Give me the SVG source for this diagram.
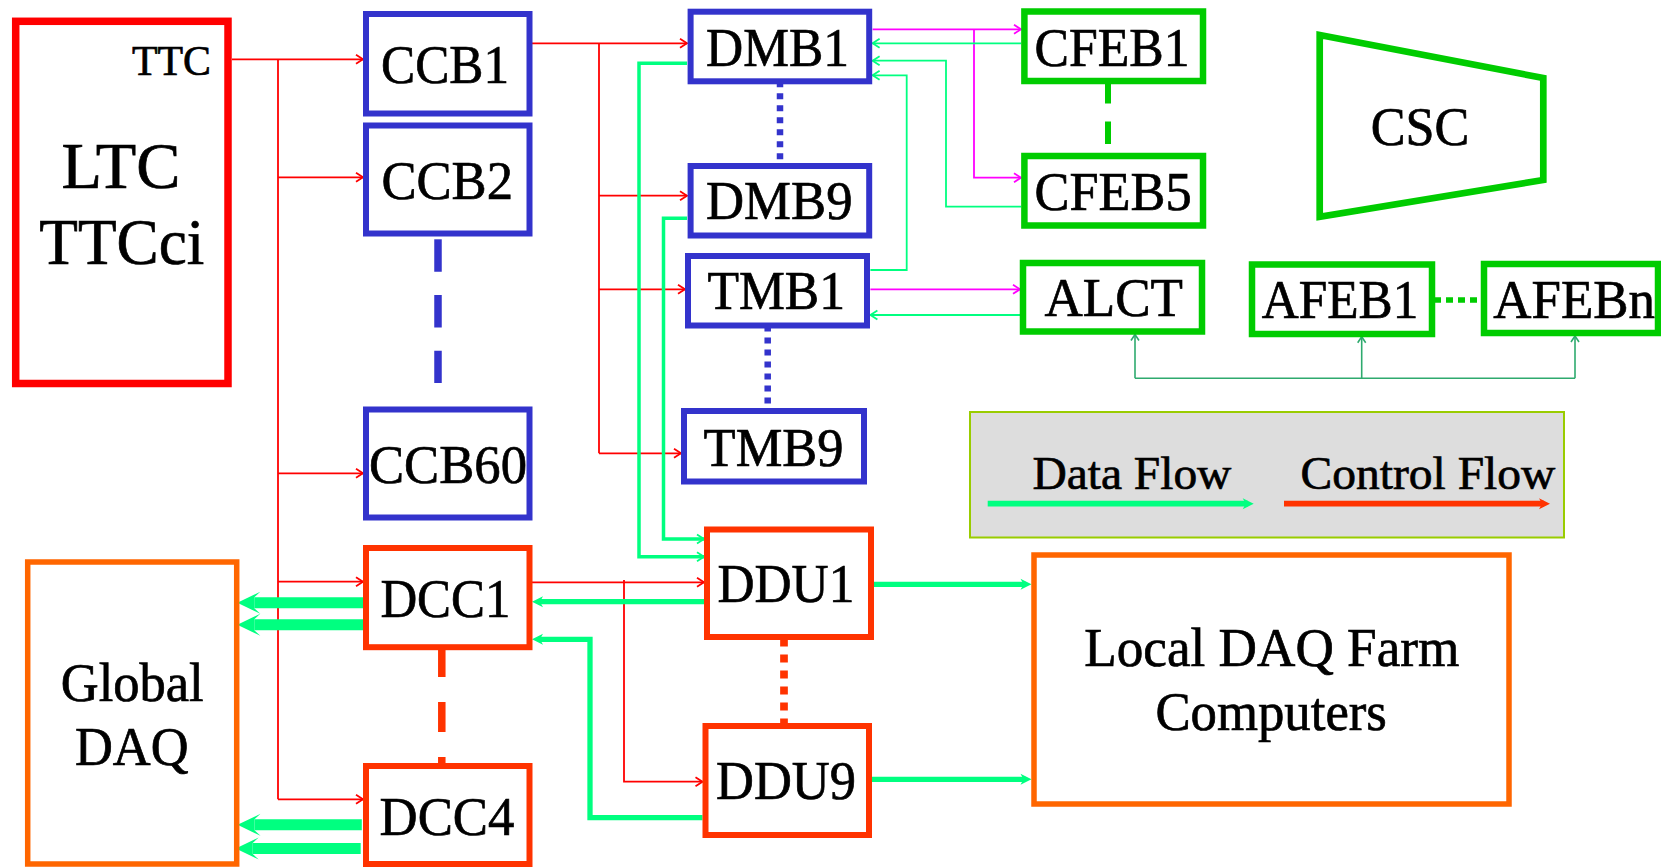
<svg xmlns="http://www.w3.org/2000/svg" width="1661" height="867" viewBox="0 0 1661 867">
  <style>
    .t { font-family: "Liberation Serif", "Times New Roman", "DejaVu Serif", serif; fill: #000; stroke: #000; stroke-width: 0.7; }
    .blue { stroke: #3333cc; stroke-width: 6; fill: #fff; }
    .grn { stroke: #00cc00; stroke-width: 6.5; fill: #fff; }
    .rd { stroke: #ff3300; stroke-width: 6; fill: #fff; }
    .org { stroke: #ff6600; stroke-width: 5.5; fill: #fff; }
    .ctl { stroke: #ff0000; stroke-width: 1.8; fill: none; }
    .mag { stroke: #ff00ff; stroke-width: 1.8; fill: none; }
    .dat1 { stroke: #00ff80; stroke-width: 1.8; fill: none; }
    .teal { stroke: #2eaa6e; stroke-width: 1.6; fill: none; }
    .dat3 { stroke: #00ff80; stroke-width: 3.5; fill: none; }
    .dat5 { stroke: #00ff80; stroke-width: 5.3; fill: none; }
    .dat11 { stroke: #00ff80; stroke-width: 11; fill: none; }
  </style>
  <defs>
    <marker id="mRed" markerUnits="userSpaceOnUse" orient="auto" overflow="visible" refX="0" refY="0" markerWidth="10" markerHeight="10">
      <path d="M-7,-4.5 L0,0 L-7,4.5" fill="none" stroke="#ff0000" stroke-width="1.8"/>
    </marker>
    <marker id="mMag" markerUnits="userSpaceOnUse" orient="auto" overflow="visible" refX="0" refY="0" markerWidth="10" markerHeight="10">
      <path d="M-7,-4.5 L0,0 L-7,4.5" fill="none" stroke="#ff00ff" stroke-width="1.8"/>
    </marker>
    <marker id="mGrn" markerUnits="userSpaceOnUse" orient="auto" overflow="visible" refX="0" refY="0" markerWidth="10" markerHeight="10">
      <path d="M-7,-4.5 L0,0 L-7,4.5" fill="none" stroke="#00ff80" stroke-width="1.8"/>
    </marker>
    <marker id="mTeal" markerUnits="userSpaceOnUse" orient="auto" overflow="visible" refX="0" refY="0" markerWidth="10" markerHeight="10">
      <path d="M-6,-4 L0,0 L-6,4" fill="none" stroke="#2eaa6e" stroke-width="1.6"/>
    </marker>
    <marker id="mGrnMid" markerUnits="userSpaceOnUse" orient="auto" overflow="visible" refX="-6" refY="0" markerWidth="12" markerHeight="12">
      <path d="M0,0 L-11,-5.5 L-8,0 L-11,5.5 Z" fill="#00ff80"/>
    </marker>
    <marker id="mRedMid" markerUnits="userSpaceOnUse" orient="auto" overflow="visible" refX="-6" refY="0" markerWidth="12" markerHeight="12">
      <path d="M0,0 L-11,-5.5 L-8,0 L-11,5.5 Z" fill="#ff3300"/>
    </marker>
    <marker id="mGrnBig" markerUnits="userSpaceOnUse" orient="auto" overflow="visible" refX="-17" refY="0" markerWidth="24" markerHeight="24">
      <path d="M0,0 L-23,-11 L-17,-5.5 L-17,5.5 L-23,11 Z" fill="#00ff80"/>
    </marker>
  </defs>

  <!-- connectors -->
  <g id="connectors">
    <!-- TTC control fan-out -->
    <path class="ctl" d="M232,59.3 H363" marker-end="url(#mRed)"/>
    <path class="ctl" d="M278,59.3 V799.3"/>
    <path class="ctl" d="M278,177.3 H363" marker-end="url(#mRed)"/>
    <path class="ctl" d="M278,473.3 H363" marker-end="url(#mRed)"/>
    <path class="ctl" d="M278,581.7 H363" marker-end="url(#mRed)"/>
    <path class="ctl" d="M278,799.3 H363" marker-end="url(#mRed)"/>
    <!-- CCB control to DMB/TMB -->
    <path class="ctl" d="M532,43.3 H687" marker-end="url(#mRed)"/>
    <path class="ctl" d="M599,43.3 V453.3"/>
    <path class="ctl" d="M599,195.7 H687" marker-end="url(#mRed)"/>
    <path class="ctl" d="M599,289.3 H685" marker-end="url(#mRed)"/>
    <path class="ctl" d="M599,453.3 H681" marker-end="url(#mRed)"/>
    <!-- DCC control to DDU -->
    <path class="ctl" d="M532,582.3 H704" marker-end="url(#mRed)"/>
    <path class="ctl" d="M624,580 V781.7 H702.5" marker-end="url(#mRed)"/>

    <!-- DMB / TMB to front-end control -->
    <path class="mag" d="M872.6,29.3 H1021" marker-end="url(#mMag)"/>
    <path class="mag" d="M974,29.3 V177.7 H1021" marker-end="url(#mMag)"/>
    <path class="mag" d="M870.4,289.3 H1020" marker-end="url(#mMag)"/>

    <!-- front-end data back to DMB / TMB -->
    <path class="dat1" d="M1021,43.3 H872.6" marker-end="url(#mGrn)"/>
    <path class="dat1" d="M1021,206.7 H946 V60.7 H872.6" marker-end="url(#mGrn)"/>
    <path class="dat1" d="M870.4,270 H906.7 V75.3 H872.6" marker-end="url(#mGrn)"/>
    <path class="dat1" d="M1020,315 H870.4" marker-end="url(#mGrn)"/>

    <!-- ALCT to AFEB -->
    <path class="teal" d="M1135,378.3 H1575"/>
    <path class="teal" d="M1135,378.3 V334.5" marker-end="url(#mTeal)"/>
    <path class="teal" d="M1361.7,378.3 V336.7" marker-end="url(#mTeal)"/>
    <path class="teal" d="M1575,378.3 V336" marker-end="url(#mTeal)"/>

    <!-- DMB data to DDU -->
    <path class="dat3" d="M687,63.3 H639 V556.7 H704" marker-end="url(#mGrn)"/>
    <path class="dat3" d="M687,218.3 H663.5 V539 H704" marker-end="url(#mGrn)"/>

    <!-- DDU data to DCC -->
    <path class="dat5" d="M704,601.7 H538" marker-end="url(#mGrnMid)"/>
    <path class="dat5" d="M702.5,817.7 H590 V639.3 H538" marker-end="url(#mGrnMid)"/>

    <!-- DDU data to local farm -->
    <path class="dat5" d="M874,584.3 H1025.5" marker-end="url(#mGrnMid)"/>
    <path class="dat5" d="M872,779.3 H1025.5" marker-end="url(#mGrnMid)"/>

    <!-- DCC data to global DAQ -->
    <path class="dat11" d="M365,602.8 H254.3" marker-end="url(#mGrnBig)"/>
    <path class="dat11" d="M366.7,624.8 H254.3" marker-end="url(#mGrnBig)"/>
    <path class="dat11" d="M361.8,824.8 H254.5" marker-end="url(#mGrnBig)"/>
    <path class="dat11" d="M360.7,848.5 H252.7" marker-end="url(#mGrnBig)"/>

    <!-- ellipsis links between repeated boards -->
    <path d="M438,239.3 V406" stroke="#3333cc" stroke-width="7.5" stroke-dasharray="32.4 23.3"/>
    <path d="M441.8,647 V766" stroke="#ff3300" stroke-width="7.5" stroke-dasharray="30 25"/>
    <path d="M780,81.3 V166" stroke="#3333cc" stroke-width="6.5" stroke-dasharray="6 6"/>
    <path d="M767.7,325.5 V411" stroke="#3333cc" stroke-width="6.5" stroke-dasharray="6 6"/>
    <path d="M784,638.5 V726" stroke="#ff3300" stroke-width="7.7" stroke-dasharray="8 8"/>
    <path d="M1108,81 V156" stroke="#00cc00" stroke-width="6" stroke-dasharray="22.5 18"/>
    <path d="M1434,300 H1484" stroke="#00cc00" stroke-width="5.5" stroke-dasharray="7 5"/>
  </g>

  <!-- LTC / TTCci -->
  <g id="ltc">
    <rect x="15.7" y="21.3" width="212.3" height="362.2" fill="#fff" stroke="#ff0000" stroke-width="7.5"/>
    <text class="t" x="211" y="75" font-size="43" text-anchor="end" textLength="79" lengthAdjust="spacingAndGlyphs">TTC</text>
    <text class="t" x="61.4" y="188.3" font-size="66" textLength="119" lengthAdjust="spacingAndGlyphs">LTC</text>
    <text class="t" x="39.3" y="264" font-size="66" textLength="165" lengthAdjust="spacingAndGlyphs">TTCci</text>
  </g>

  <g id="ccb1">
    <rect class="blue" x="366" y="14" width="163.5" height="99.5"/>
    <text class="t" x="381" y="83.3" font-size="55" textLength="128" lengthAdjust="spacingAndGlyphs">CCB1</text>
  </g>
  <g id="ccb2">
    <rect class="blue" x="366" y="125.5" width="163.5" height="108"/>
    <text class="t" x="381.4" y="199.3" font-size="55" textLength="131.6" lengthAdjust="spacingAndGlyphs">CCB2</text>
  </g>
  <g id="ccb60">
    <rect class="blue" x="366" y="409.5" width="163.5" height="108"/>
    <text class="t" x="369" y="482.7" font-size="55" textLength="158" lengthAdjust="spacingAndGlyphs">CCB60</text>
  </g>

  <g id="dcc1">
    <rect class="rd" x="366" y="548" width="163.5" height="99.2"/>
    <text class="t" x="380.4" y="617.3" font-size="55" textLength="130" lengthAdjust="spacingAndGlyphs">DCC1</text>
  </g>
  <g id="dcc4">
    <rect class="rd" x="366" y="766" width="163.5" height="98"/>
    <text class="t" x="379.6" y="835" font-size="55" textLength="134.7" lengthAdjust="spacingAndGlyphs">DCC4</text>
  </g>

  <g id="global-daq">
    <rect class="org" x="27.7" y="562" width="209" height="302"/>
    <text class="t" x="60.7" y="701" font-size="54" textLength="143" lengthAdjust="spacingAndGlyphs">Global</text>
    <text class="t" x="75" y="765" font-size="54" textLength="113.6" lengthAdjust="spacingAndGlyphs">DAQ</text>
  </g>

  <g id="dmb1">
    <rect class="blue" x="690.6" y="11.7" width="178.6" height="69.6"/>
    <text class="t" x="706" y="65.7" font-size="55" textLength="143" lengthAdjust="spacingAndGlyphs">DMB1</text>
  </g>
  <g id="dmb9">
    <rect class="blue" x="690.6" y="166" width="178.6" height="69.5"/>
    <text class="t" x="706" y="219" font-size="55" textLength="146.5" lengthAdjust="spacingAndGlyphs">DMB9</text>
  </g>
  <g id="tmb1">
    <rect class="blue" x="688" y="256" width="179" height="69.5"/>
    <text class="t" x="707.4" y="309.3" font-size="55" textLength="137.6" lengthAdjust="spacingAndGlyphs">TMB1</text>
  </g>
  <g id="tmb9">
    <rect class="blue" x="684" y="411" width="180" height="70.5"/>
    <text class="t" x="703.6" y="465.7" font-size="55" textLength="140" lengthAdjust="spacingAndGlyphs">TMB9</text>
  </g>

  <g id="cfeb1">
    <rect class="grn" x="1024.4" y="11.5" width="178.6" height="69.5"/>
    <text class="t" x="1034.6" y="65.7" font-size="55" textLength="155" lengthAdjust="spacingAndGlyphs">CFEB1</text>
  </g>
  <g id="cfeb5">
    <rect class="grn" x="1024.4" y="156" width="178.6" height="69.5"/>
    <text class="t" x="1034.6" y="210" font-size="55" textLength="157" lengthAdjust="spacingAndGlyphs">CFEB5</text>
  </g>
  <g id="alct">
    <rect class="grn" x="1023" y="263" width="179" height="68.5"/>
    <text class="t" x="1044.5" y="316" font-size="55" textLength="138.4" lengthAdjust="spacingAndGlyphs">ALCT</text>
  </g>
  <g id="afeb1">
    <rect class="grn" x="1252" y="264.5" width="180" height="69.5"/>
    <text class="t" x="1261.7" y="318.3" font-size="55" textLength="156.6" lengthAdjust="spacingAndGlyphs">AFEB1</text>
  </g>
  <g id="afebn">
    <rect class="grn" x="1484" y="264" width="174" height="69"/>
    <text class="t" x="1493.3" y="318.3" font-size="55" textLength="161.7" lengthAdjust="spacingAndGlyphs">AFEBn</text>
  </g>

  <g id="csc">
    <polygon points="1319.7,35 1543.3,78 1543.3,180 1319.7,216.7" fill="#fff" stroke="#00cc00" stroke-width="6.7"/>
    <text class="t" x="1370.7" y="145" font-size="54" textLength="98.6" lengthAdjust="spacingAndGlyphs">CSC</text>
  </g>

  <g id="ddu1">
    <rect class="rd" x="707" y="529.5" width="164" height="107.5"/>
    <text class="t" x="717.5" y="602.3" font-size="55" textLength="136.8" lengthAdjust="spacingAndGlyphs">DDU1</text>
  </g>
  <g id="ddu9">
    <rect class="rd" x="705.5" y="726" width="163.5" height="109"/>
    <text class="t" x="716" y="799" font-size="55" textLength="140" lengthAdjust="spacingAndGlyphs">DDU9</text>
  </g>

  <g id="local-daq">
    <rect class="org" x="1034" y="555" width="475" height="249" stroke-width="6"/>
    <text class="t" x="1084.3" y="665.7" font-size="54.5" textLength="375" lengthAdjust="spacingAndGlyphs">Local DAQ Farm</text>
    <text class="t" x="1155.4" y="730" font-size="54.5" textLength="231.5" lengthAdjust="spacingAndGlyphs">Computers</text>
  </g>

  <g id="legend">
    <rect x="970" y="412" width="594" height="125.5" fill="#dddddd" stroke="#99cc00" stroke-width="2"/>
    <text class="t" x="1032.4" y="489.3" font-size="47" textLength="199" lengthAdjust="spacingAndGlyphs">Data Flow</text>
    <text class="t" x="1300.6" y="489.3" font-size="47" textLength="254.8" lengthAdjust="spacingAndGlyphs">Control Flow</text>
    <path d="M987.7,503.7 H1247.7" stroke="#00ff80" stroke-width="5.7" marker-end="url(#mGrnMid)"/>
    <path d="M1284,503.7 H1544" stroke="#ff3300" stroke-width="5.7" marker-end="url(#mRedMid)"/>
  </g>
</svg>
